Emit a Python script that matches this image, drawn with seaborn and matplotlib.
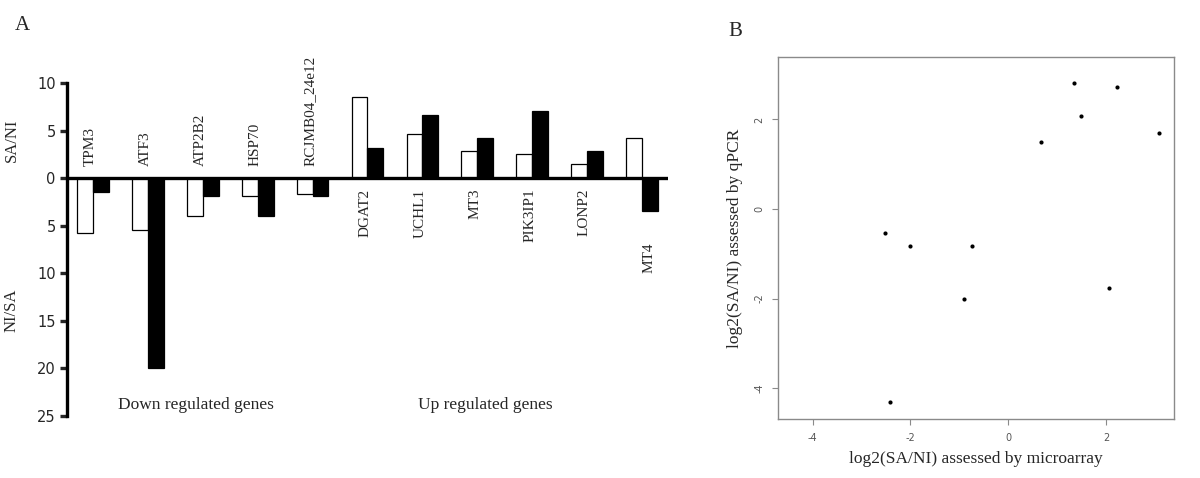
import matplotlib
matplotlib.use("Agg")
import matplotlib.pyplot as plt
import seaborn as sns
import pandas as pd
import numpy as np

# ---- Data ----
down_genes = ["TPM3", "ATF3", "ATP2B2", "HSP70", "RCJMB04_24e12"]
up_genes = ["DGAT2", "UCHL1", "MT3", "PIK3IP1", "LONP2", "MT4"]
genes = down_genes + up_genes
# fold changes (positive = SA/NI, negative = NI/SA)
microarray_fc = [-5.8, -5.5, -4.0, -1.9, -1.7, 8.5, 4.6, 2.8, 2.5, 1.5, 4.2]
qpcr_fc = [-1.5, -20.0, -1.9, -4.0, -1.9, 3.2, 6.6, 4.2, 7.1, 2.8, -3.5]
methods = ["Microarray", "qPCR"]

# panel B (log2 values)
log2_microarray = [-2.52, -2.42, -2.00, -0.90, -0.75, 3.08, 2.22, 1.49, 1.34, 0.68, 2.07]
log2_qpcr = [-0.53, -4.32, -0.83, -2.00, -0.83, 1.70, 2.72, 2.08, 2.81, 1.49, -1.76]

yticks_a = [10, 5, 0, -5, -10, -15, -20, -25]
ticks_b = [-4, -2, 0, 2]

df = pd.DataFrame({
    "gene": genes * 2,
    "value": microarray_fc + qpcr_fc,
    "method": [methods[0]] * len(genes) + [methods[1]] * len(genes),
})
dfb = pd.DataFrame({"micro": log2_microarray, "qpcr": log2_qpcr})

sns.set_style("white")
plt.rcParams["font.family"] = ["DejaVu Sans"]
serif = ["Liberation Serif", "DejaVu Serif"]

fig = plt.figure(figsize=(12, 4.78), dpi=100)

# ---- Panel A ----
axA = fig.add_axes([0.0558, 0.1297, 0.5009, 0.6967])
sns.barplot(data=df, x="gene", y="value", hue="method", order=genes,
            hue_order=methods, palette=["white", "black"], edgecolor="black",
            linewidth=0.9, width=0.58, ax=axA, legend=False)
axA.set_xlim(-0.47, 10.47)
axA.set_ylim(-25, 10)
axA.axhline(0, color="black", lw=2.4, zorder=5)
for s in ["top", "right", "bottom"]:
    axA.spines[s].set_visible(False)
axA.spines["left"].set_linewidth(2.4)
axA.spines["left"].set_color("black")
axA.set_xticks([])
axA.set_yticks(yticks_a)
axA.set_yticklabels([str(abs(v)) for v in yticks_a], fontsize=10.5)
axA.tick_params(axis="y", direction="out", length=5, width=2.4, pad=3, left=True)
axA.set_xlabel("")
axA.set_ylabel("")

for i, g in enumerate(genes):
    if g in down_genes:
        axA.text(i - 0.05, 1.25, g, rotation=90, ha="center", va="bottom",
                 fontsize=11, family=serif)
    elif g == "MT4":
        axA.text(i + 0.12, -6.8, g, rotation=90, ha="center", va="top",
                 fontsize=11, family=serif)
    else:
        axA.text(i - 0.05, -1.1, g, rotation=90, ha="center", va="top",
                 fontsize=11, family=serif)

fig.text(196 / 1200, 1 - 405 / 478, "Down regulated genes", ha="center", va="center",
         fontsize=12.5, family=serif)
fig.text(485 / 1200, 1 - 405 / 478, "Up regulated genes", ha="center", va="center",
         fontsize=12.5, family=serif)
fig.text(12 / 1200, 1 - 140 / 478, "SA/NI", rotation=90, ha="center", va="center",
         fontsize=12, family=serif)
fig.text(12 / 1200, 1 - 310 / 478, "NI/SA", rotation=90, ha="center", va="center",
         fontsize=12, family=serif)
fig.text(22 / 1200, 1 - 25 / 478, "A", ha="center", va="center", fontsize=15, family=serif)
fig.text(735 / 1200, 1 - 31 / 478, "B", ha="center", va="center", fontsize=15, family=serif)

# ---- Panel B ----
axB = fig.add_axes([0.6483, 0.1234, 0.33, 0.758])
sns.scatterplot(data=dfb, x="micro", y="qpcr", color="black", s=9,
                edgecolor="black", linewidth=0, ax=axB)
axB.set_xlim(-4.71, 3.39)
axB.set_ylim(-4.69, 3.40)
for s in axB.spines.values():
    s.set_color("#8a8a8a")
    s.set_linewidth(1.0)
axB.set_xticks(ticks_b)
axB.set_yticks(ticks_b)
axB.set_xticklabels([str(t) for t in ticks_b], fontsize=7, color="#555555")
axB.set_yticklabels([str(t) for t in ticks_b], fontsize=7, color="#555555",
                    rotation=90, va="center")
axB.tick_params(direction="out", length=4, width=0.8, color="#8a8a8a",
                bottom=True, left=True, pad=6)
axB.set_xlabel("log2(SA/NI) assessed by microarray", fontsize=12.5, family=serif,
               labelpad=6)
axB.set_ylabel("log2(SA/NI) assessed by qPCR", fontsize=12.5, family=serif,
               labelpad=8)

fig.savefig("out.png", dpi=100, facecolor="white")
